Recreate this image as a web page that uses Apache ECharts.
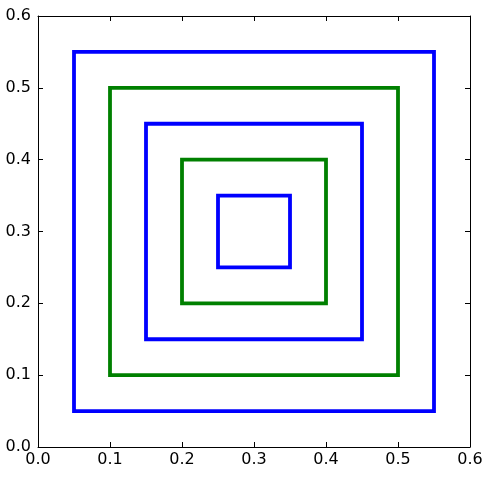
<!DOCTYPE html>
<html>
<head>
<meta charset="utf-8">
<script src="https://cdn.jsdelivr.net/npm/echarts@6/dist/echarts.min.js"></script>
<style>
  html, body { margin: 0; padding: 0; background: #fff; }
  #chart { width: 490px; height: 477px; }
</style>
</head>
<body>
<div id="chart"></div>
<script>
  // nested squares: lower-left and upper-right corner, same for x and y
  var squareLow = [0.05, 0.1, 0.15, 0.2, 0.25];
  var squareHigh = [0.55, 0.5, 0.45, 0.4, 0.35];
  var squareColor = ['#0000ff', '#008000', '#0000ff', '#008000', '#0000ff'];
  var tickValues = [0.0, 0.1, 0.2, 0.3, 0.4, 0.5, 0.6];

  var font = 'DejaVu Sans';
  var chart = echarts.init(document.getElementById('chart'));

  var series = [];
  squareLow.forEach(function (lo, i) {
    var hi = squareHigh[i];
    series.push({
      type: 'line',
      showSymbol: false,
      silent: true,
      animation: false,
      lineStyle: { color: squareColor[i], width: 3.8, join: 'miter', cap: 'square' },
      data: [[lo, lo], [hi, lo], [hi, hi], [lo, hi], [lo, lo]]
    });
  });

  function makeAxis(position, showLabel, margin) {
    return {
      type: 'value',
      position: position,
      min: tickValues[0],
      max: tickValues[tickValues.length - 1],
      interval: 0.1,
      splitLine: { show: false },
      axisLine: { show: true, onZero: false, lineStyle: { color: '#000', width: 1 } },
      axisTick: { show: true, inside: true, length: 5, lineStyle: { color: '#000' } },
      axisLabel: {
        show: showLabel,
        color: '#000',
        fontFamily: font,
        fontSize: 16,
        margin: margin,
        formatter: function (v) { return v.toFixed(1); }
      }
    };
  }

  chart.setOption({
    backgroundColor: '#fff',
    animation: false,
    grid: { left: 38, top: 16, width: 432, height: 431, containLabel: false },
    xAxis: [makeAxis('bottom', true, 5), makeAxis('top', false, 5)],
    yAxis: [makeAxis('left', true, 7), makeAxis('right', false, 7)],
    series: series
  });
</script>
</body>
</html>
